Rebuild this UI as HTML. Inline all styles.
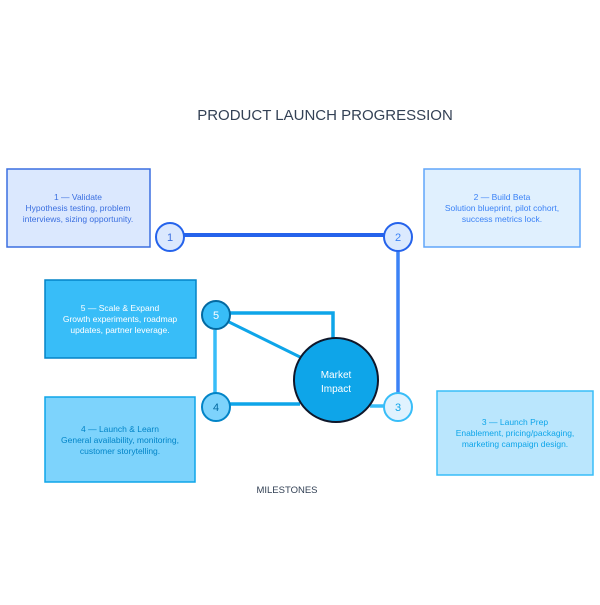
<!DOCTYPE html>
<html><head><meta charset="utf-8"><style>
body{margin:0;background:#fff;}
svg text{font-family:"Liberation Sans",sans-serif;}
</style></head><body>
<svg width="600" height="600" viewBox="0 0 600 600" xmlns="http://www.w3.org/2000/svg">
<rect width="600" height="600" fill="#fff"/>
<text x="325" y="120" text-anchor="middle" font-size="15" fill="#334155">PRODUCT LAUNCH PROGRESSION</text>
<!-- boxes -->
<rect x="7" y="169" width="143" height="78" fill="#dbe8fe" stroke="#3b6fe0" stroke-width="1.5"/>
<g font-size="8.5" fill="#3b6fe0" text-anchor="middle"><text x="78" y="200">1 — Validate</text><text x="78" y="211">Hypothesis testing, problem</text><text x="78" y="222">interviews, sizing opportunity.</text></g>
<rect x="424" y="169" width="156" height="78" fill="#e0f0fe" stroke="#60a5fa" stroke-width="1.5"/>
<g font-size="8.5" fill="#3b82f6" text-anchor="middle"><text x="502" y="200">2 — Build Beta</text><text x="502" y="211">Solution blueprint, pilot cohort,</text><text x="502" y="222">success metrics lock.</text></g>
<rect x="45" y="280" width="151" height="78" fill="#38bdf8" stroke="#0284c7" stroke-width="1.5"/>
<g font-size="8.5" fill="#fff" text-anchor="middle"><text x="120" y="311">5 — Scale &amp; Expand</text><text x="120" y="322">Growth experiments, roadmap</text><text x="120" y="333">updates, partner leverage.</text></g>
<rect x="45" y="397" width="150" height="85" fill="#7dd3fc" stroke="#0ea5e9" stroke-width="1.5"/>
<g font-size="8.5" fill="#0284c7" text-anchor="middle"><text x="120" y="432">4 — Launch &amp; Learn</text><text x="120" y="443">General availability, monitoring,</text><text x="120" y="454">customer storytelling.</text></g>
<rect x="437" y="391" width="156" height="84" fill="#bae6fd" stroke="#38bdf8" stroke-width="1.5"/>
<g font-size="8.5" fill="#0ea5e9" text-anchor="middle"><text x="515" y="425">3 — Launch Prep</text><text x="515" y="436">Enablement, pricing/packaging,</text><text x="515" y="447">marketing campaign design.</text></g>
<!-- connectors -->
<line x1="184" y1="235" x2="385" y2="235" stroke="#2563eb" stroke-width="4"/>
<line x1="398" y1="251" x2="398" y2="393" stroke="#3b82f6" stroke-width="3.5"/>
<polyline points="230,313 333,313 333,340" fill="none" stroke="#0ea5e9" stroke-width="3.5"/>
<line x1="229" y1="322" x2="302" y2="358" stroke="#0ea5e9" stroke-width="3"/>
<line x1="215" y1="330" x2="215" y2="393" stroke="#38bdf8" stroke-width="3.5"/>
<line x1="230" y1="404" x2="300" y2="404" stroke="#0ea5e9" stroke-width="3.5"/>
<line x1="370" y1="406" x2="385" y2="406" stroke="#38bdf8" stroke-width="3.5"/>
<!-- center -->
<circle cx="336" cy="380" r="42" fill="#0ea5e9" stroke="#0f172a" stroke-width="2"/>
<text x="336" y="378" text-anchor="middle" font-size="10" fill="#fff">Market</text>
<text x="336" y="392" text-anchor="middle" font-size="10" fill="#fff">Impact</text>
<!-- nodes -->
<circle cx="170" cy="237" r="14" fill="#dbe8fe" stroke="#2563eb" stroke-width="2"/><text x="170" y="241" text-anchor="middle" font-size="11" fill="#3b6fe0">1</text>
<circle cx="398" cy="237" r="14" fill="#dbeafe" stroke="#2563eb" stroke-width="2"/><text x="398" y="241" text-anchor="middle" font-size="11" fill="#3b82f6">2</text>
<circle cx="398" cy="407" r="14" fill="#e0f2fe" stroke="#38bdf8" stroke-width="2"/><text x="398" y="411" text-anchor="middle" font-size="11" fill="#0ea5e9">3</text>
<circle cx="216" cy="407" r="14" fill="#7dd3fc" stroke="#0284c7" stroke-width="2"/><text x="216" y="411" text-anchor="middle" font-size="11" fill="#0369a1">4</text>
<circle cx="216" cy="315" r="14" fill="#38bdf8" stroke="#0369a1" stroke-width="2"/><text x="216" y="319" text-anchor="middle" font-size="11" fill="#fff">5</text>
<text x="287" y="493" text-anchor="middle" font-size="9.5" fill="#334155">MILESTONES</text>
</svg>
</body></html>
